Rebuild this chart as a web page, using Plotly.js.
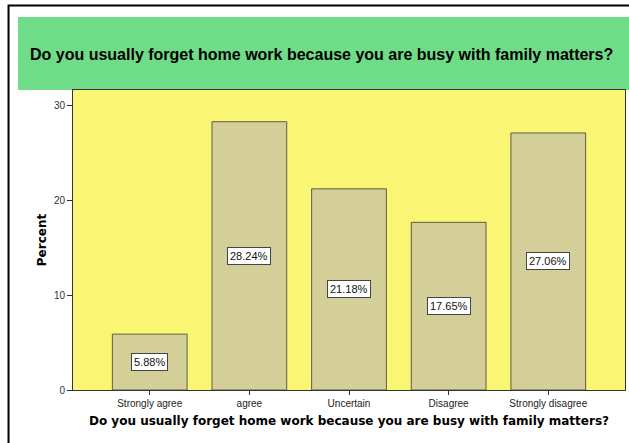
<!DOCTYPE html>
<html>
<head>
<meta charset="utf-8">
<script src="https://cdn.plot.ly/plotly-3.0.1.min.js"></script>
<style>html,body{margin:0;padding:0;background:#fff;}#chart{width:629px;height:443px;}</style>
</head>
<body>
<div id="chart"></div>
<script>
const categories = ["Strongly agree", "agree", "Uncertain", "Disagree", "Strongly disagree"];
const percents = [5.88, 28.24, 21.18, 17.65, 27.06];
const yTicks = [0, 10, 20, 30];
const chartTitle = "Do you usually forget home work because you are busy with family matters?";

const FONT = "Liberation Sans, Arial, sans-serif";
const WIDE = "DejaVu Sans, Verdana, sans-serif";

const trace = {
  type: "bar",
  x: categories,
  y: percents,
  width: 0.75,
  marker: {color: "#D4CF98", line: {color: "#5E5C45", width: 1}},
  hoverinfo: "none"
};

const labelAnn = categories.map((c, i) => ({
  x: c, y: percents[i] / 2, xref: "x", yref: "y",
  text: percents[i].toFixed(2) + "%",
  showarrow: false,
  font: {family: FONT, size: 11, color: "#111"},
  bgcolor: "#ffffff", bordercolor: "#444", borderwidth: 1, borderpad: 2
}));

const layout = {
  width: 629, height: 443,
  margin: {l: 73, r: 4, t: 90, b: 53},
  paper_bgcolor: "#ffffff",
  plot_bgcolor: "#FAF573",
  showlegend: false,
  font: {family: FONT},
  xaxis: {
    type: "category",
    range: [-0.77, 4.77],
    showline: true, linecolor: "#333", linewidth: 1, mirror: true,
    ticks: "outside", ticklen: 4, tickcolor: "#333",
    tickfont: {family: FONT, size: 10, color: "#222"},
    title: {text: "<b>" + chartTitle + "</b>", font: {family: WIDE, size: 12, color: "#000"}, standoff: 8},
    showgrid: false
  },
  yaxis: {
    range: [0, 31.58],
    tickvals: yTicks,
    showline: true, linecolor: "#333", linewidth: 1, mirror: true,
    ticks: "outside", ticklen: 5, tickcolor: "#333",
    tickfont: {family: FONT, size: 10, color: "#333"},
    title: {text: "<b>Percent</b>", font: {family: WIDE, size: 12, color: "#000"}, standoff: 4},
    showgrid: false, zeroline: false
  },
  shapes: [
    {type: "rect", xref: "paper", yref: "paper", x0: -0.0996, x1: 1.01, y0: 1.0, y1: 1.2433,
     fillcolor: "#6FDC87", line: {width: 0}, layer: "below"},
    {type: "rect", xref: "paper", yref: "paper", x0: -0.1168, x1: 1.5, y0: -0.5, y1: 1.2817,
     fillcolor: "rgba(0,0,0,0)", line: {color: "#000", width: 2}, layer: "above"}
  ],
  annotations: labelAnn.concat([{
    xref: "paper", yref: "paper", x: 0.451, y: 1.117, xanchor: "center", yanchor: "middle",
    text: "<b>" + chartTitle + "</b>", showarrow: false,
    font: {family: FONT, size: 16, color: "#000"}
  }])
};

Plotly.newPlot("chart", [trace], layout, {displayModeBar: false, staticPlot: true});
</script>
</body>
</html>
